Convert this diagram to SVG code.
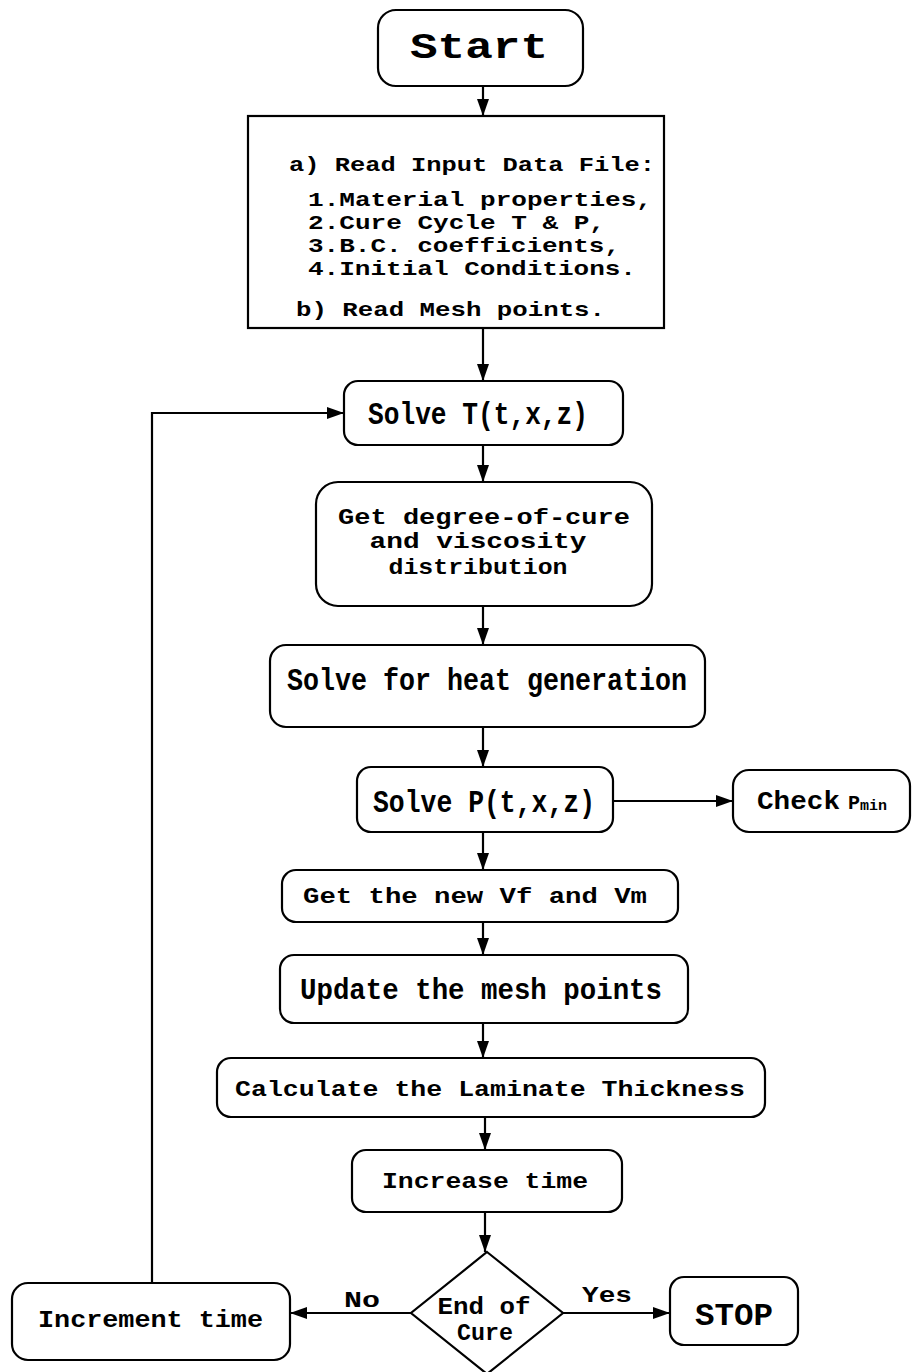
<svg xmlns="http://www.w3.org/2000/svg" width="913" height="1372" viewBox="0 0 913 1372">
<style>
.box{fill:#fff;stroke:#000;stroke-width:2.2}
.t{font-family:"Liberation Mono","DejaVu Sans Mono",monospace;font-weight:bold;fill:#000}
.c{font-family:"Liberation Mono","DejaVu Sans Mono",monospace;font-weight:bold;fill:#000}
.ln{fill:none;stroke:#000;stroke-width:2.2}
</style>
<defs>
<marker id="ah" markerUnits="userSpaceOnUse" markerWidth="18" markerHeight="14" refX="17" refY="6" orient="auto">
<path d="M0,0 L17,6 L0,12 z" fill="#000"/>
</marker>
</defs>
<rect width="913" height="1372" fill="#fff"/>

<g id="connectors">
<line class="ln" x1="483" y1="86" x2="483" y2="116" marker-end="url(#ah)"/>
<line class="ln" x1="483" y1="328" x2="483" y2="381" marker-end="url(#ah)"/>
<line class="ln" x1="483" y1="445" x2="483" y2="482" marker-end="url(#ah)"/>
<line class="ln" x1="483" y1="606" x2="483" y2="645" marker-end="url(#ah)"/>
<line class="ln" x1="483" y1="727" x2="483" y2="767" marker-end="url(#ah)"/>
<line class="ln" x1="613" y1="801" x2="733" y2="801" marker-end="url(#ah)"/>
<line class="ln" x1="483" y1="832" x2="483" y2="870" marker-end="url(#ah)"/>
<line class="ln" x1="483" y1="922" x2="483" y2="955" marker-end="url(#ah)"/>
<line class="ln" x1="483" y1="1023" x2="483" y2="1058" marker-end="url(#ah)"/>
<line class="ln" x1="485" y1="1117" x2="485" y2="1150" marker-end="url(#ah)"/>
<line class="ln" x1="485" y1="1212" x2="485" y2="1252" marker-end="url(#ah)"/>
<line class="ln" x1="411" y1="1313" x2="290" y2="1313" marker-end="url(#ah)"/>
<line class="ln" x1="563" y1="1313" x2="670" y2="1313" marker-end="url(#ah)"/>
<path class="ln" d="M152,1283 V413 H344" marker-end="url(#ah)"/>
<text class="c" x="362" y="1307" font-size="22" text-anchor="middle" textLength="36" lengthAdjust="spacingAndGlyphs">No</text>
<text class="c" x="607" y="1302" font-size="22" text-anchor="middle" textLength="50" lengthAdjust="spacingAndGlyphs">Yes</text>
</g>

<g id="start">
<rect class="box" x="378" y="10" width="205" height="76" rx="18"/>
<text class="t" x="479" y="58" font-size="36" text-anchor="middle" textLength="138" lengthAdjust="spacingAndGlyphs">Start</text>
</g>

<g id="input">
<rect class="box" x="248" y="116" width="416" height="212"/>
<text class="t" x="289" y="171" font-size="21" textLength="366" lengthAdjust="spacingAndGlyphs">a) Read Input Data File:</text>
<text class="t" x="308" y="206" font-size="21" textLength="344" lengthAdjust="spacingAndGlyphs">1.Material properties,</text>
<text class="t" x="308" y="229" font-size="21" textLength="297" lengthAdjust="spacingAndGlyphs">2.Cure Cycle T &amp; P,</text>
<text class="t" x="308" y="252" font-size="21" textLength="312" lengthAdjust="spacingAndGlyphs">3.B.C. coefficients,</text>
<text class="t" x="308" y="275" font-size="21" textLength="328" lengthAdjust="spacingAndGlyphs">4.Initial Conditions.</text>
<text class="t" x="296" y="316" font-size="21" textLength="309" lengthAdjust="spacingAndGlyphs">b) Read Mesh points.</text>
</g>

<g id="solveT">
<rect class="box" x="344" y="381" width="279" height="64" rx="14"/>
<text class="c" x="368" y="424" font-size="31" textLength="220" lengthAdjust="spacingAndGlyphs">Solve T(t,x,z)</text>
</g>

<g id="cure">
<rect class="box" x="316" y="482" width="336" height="124" rx="22"/>
<text class="t" x="484" y="524" font-size="22" text-anchor="middle" textLength="292" lengthAdjust="spacingAndGlyphs">Get degree-of-cure</text>
<text class="t" x="478" y="548" font-size="22" text-anchor="middle" textLength="217" lengthAdjust="spacingAndGlyphs">and  viscosity</text>
<text class="t" x="478" y="574" font-size="22" text-anchor="middle" textLength="179" lengthAdjust="spacingAndGlyphs">distribution</text>
</g>

<g id="heat">
<rect class="box" x="270" y="645" width="435" height="82" rx="16"/>
<text class="c" x="287" y="690" font-size="31" textLength="400" lengthAdjust="spacingAndGlyphs">Solve for heat generation</text>
</g>

<g id="solveP">
<rect class="box" x="357" y="767" width="256" height="65" rx="14"/>
<text class="c" x="373" y="812" font-size="31" textLength="222" lengthAdjust="spacingAndGlyphs">Solve P(t,x,z)</text>
</g>

<g id="check">
<rect class="box" x="733" y="770" width="177" height="62" rx="16"/>
<text class="c" x="757" y="809" font-size="26"><tspan textLength="83" lengthAdjust="spacingAndGlyphs">Check</tspan><tspan x="848" font-size="20">P</tspan><tspan font-size="15" dy="1">min</tspan></text>
</g>

<g id="vf">
<rect class="box" x="282" y="870" width="396" height="52" rx="14"/>
<text class="t" x="303" y="903" font-size="22" textLength="344" lengthAdjust="spacingAndGlyphs">Get the new Vf and Vm</text>
</g>

<g id="mesh">
<rect class="box" x="280" y="955" width="408" height="68" rx="14"/>
<text class="c" x="300" y="999" font-size="30" textLength="362" lengthAdjust="spacingAndGlyphs">Update the mesh points</text>
</g>

<g id="thick">
<rect class="box" x="217" y="1058" width="548" height="59" rx="14"/>
<text class="t" x="235" y="1096" font-size="22" textLength="510" lengthAdjust="spacingAndGlyphs">Calculate the Laminate Thickness</text>
</g>

<g id="increase">
<rect class="box" x="352" y="1150" width="270" height="62" rx="14"/>
<text class="t" x="382" y="1188" font-size="22" textLength="206" lengthAdjust="spacingAndGlyphs">Increase time</text>
</g>

<g id="decision">
<polygon class="box" points="487,1252 563,1313 487,1374 411,1313"/>
<text class="c" x="484" y="1314" font-size="24" text-anchor="middle" textLength="93" lengthAdjust="spacingAndGlyphs">End of</text>
<text class="c" x="485" y="1340" font-size="24" text-anchor="middle" textLength="56" lengthAdjust="spacingAndGlyphs">Cure</text>
</g>

<g id="stop">
<rect class="box" x="670" y="1277" width="128" height="68" rx="14"/>
<text class="c" x="734" y="1325" font-size="32" text-anchor="middle" textLength="78" lengthAdjust="spacingAndGlyphs">STOP</text>
</g>

<g id="increment">
<rect class="box" x="12" y="1283" width="278" height="77" rx="16"/>
<text class="c" x="38" y="1327" font-size="24" textLength="225" lengthAdjust="spacingAndGlyphs">Increment time</text>
</g>
</svg>
